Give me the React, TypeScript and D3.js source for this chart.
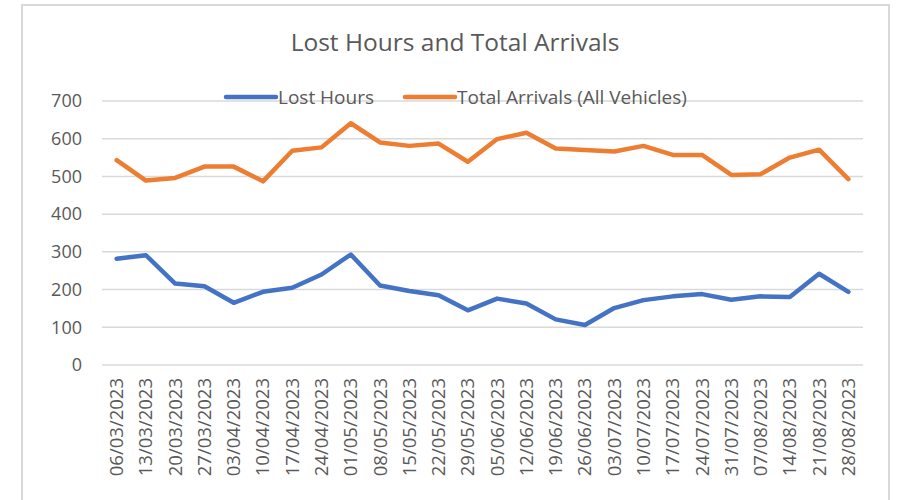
import React, { useEffect, useRef } from "react";
import * as d3 from "d3";

const dates = [
  "06/03/2023", "13/03/2023", "20/03/2023", "27/03/2023", "03/04/2023", "10/04/2023",
  "17/04/2023", "24/04/2023", "01/05/2023", "08/05/2023", "15/05/2023", "22/05/2023",
  "29/05/2023", "05/06/2023", "12/06/2023", "19/06/2023", "26/06/2023", "03/07/2023",
  "10/07/2023", "17/07/2023", "24/07/2023", "31/07/2023", "07/08/2023", "14/08/2023",
  "21/08/2023", "28/08/2023",
];

const lostHours = [
  282, 291, 216, 209, 165, 194, 205, 240, 293, 211, 196, 185, 145,
  176, 163, 121, 106, 151, 172, 182, 188, 173, 182, 180, 242, 194,
];

const totalArrivals = [
  543, 489, 496, 526, 526, 487, 568, 577, 641, 590, 581, 587, 539,
  599, 616, 574, 570, 566, 581, 557, 557, 504, 506, 550, 571, 493,
];

const yTicks = [0, 100, 200, 300, 400, 500, 600, 700];

const series = [
  { name: "Lost Hours", values: lostHours, color: "#4472C4" },
  { name: "Total Arrivals (All Vehicles)", values: totalArrivals, color: "#ED7D31" },
];

const W = 899;
const H = 500;
const FONT = "'Open Sans', sans-serif";
const TEXT = "#595959";

const App = () => {
  const ref = useRef<SVGSVGElement>(null);

  useEffect(() => {
    const svg = d3.select(ref.current);
    svg.selectAll("*").remove();

    // chart frame
    svg.append("rect")
      .attr("x", 22).attr("y", 5)
      .attr("width", 867).attr("height", 520)
      .attr("fill", "#fff")
      .attr("stroke", "#d9d9d9").attr("stroke-width", 2);

    const left = 102, right = 863, top = 101, bottom = 365;

    const x = d3.scaleBand().domain(dates).range([left, right]);
    const y = d3.scaleLinear().domain([0, 700]).range([bottom, top]);

    // gridlines
    svg.append("g").selectAll("line")
      .data(yTicks)
      .join("line")
      .attr("x1", left).attr("x2", right)
      .attr("y1", (d) => y(d)).attr("y2", (d) => y(d))
      .attr("stroke", "#d9d9d9").attr("stroke-width", 1.5);

    // y labels
    svg.append("g").selectAll("text")
      .data(yTicks)
      .join("text")
      .attr("x", 82).attr("y", (d) => y(d))
      .attr("dy", "0.35em")
      .attr("text-anchor", "end")
      .attr("font-family", FONT).attr("font-size", 18)
      .attr("fill", TEXT)
      .text((d) => d);

    // x labels, rotated
    svg.append("g").selectAll("text")
      .data(dates)
      .join("text")
      .attr("transform", (d) => `translate(${x(d)! + x.bandwidth() / 2},378) rotate(-90)`)
      .attr("dy", "0.35em")
      .attr("text-anchor", "end")
      .attr("font-family", FONT).attr("font-size", 18.5)
      .attr("fill", TEXT)
      .text((d) => d);

    // lines
    const line = d3.line<number>()
      .x((_, i) => x(dates[i])! + x.bandwidth() / 2)
      .y((d) => y(d));

    svg.append("g").selectAll("path")
      .data(series)
      .join("path")
      .attr("d", (s) => line(s.values))
      .attr("fill", "none")
      .attr("stroke", (s) => s.color)
      .attr("stroke-width", 4.5)
      .attr("stroke-linejoin", "round")
      .attr("stroke-linecap", "round");

    // title
    svg.append("text")
      .attr("x", 455).attr("y", 51)
      .attr("text-anchor", "middle")
      .attr("font-family", FONT).attr("font-size", 24.5)
      .attr("fill", TEXT)
      .text("Lost Hours and Total Arrivals");

    // legend
    const legendPos = [226, 405];
    const lg = svg.append("g").selectAll("g")
      .data(series)
      .join("g")
      .attr("transform", (_, i) => `translate(${legendPos[i]},97)`);
    lg.append("line")
      .attr("x1", 0).attr("x2", 50)
      .attr("stroke", (s) => s.color)
      .attr("stroke-width", 4.5)
      .attr("stroke-linecap", "round");
    lg.append("text")
      .attr("x", 52).attr("dy", "0.35em")
      .attr("font-family", FONT).attr("font-size", 19)
      .attr("fill", TEXT)
      .text((s) => s.name);
  }, []);

  return (
    <svg
      ref={ref}
      width={W}
      height={H}
      style={{ position: "absolute", left: 0, top: 0, background: "#fff" }}
    />
  );
};

export default App;
